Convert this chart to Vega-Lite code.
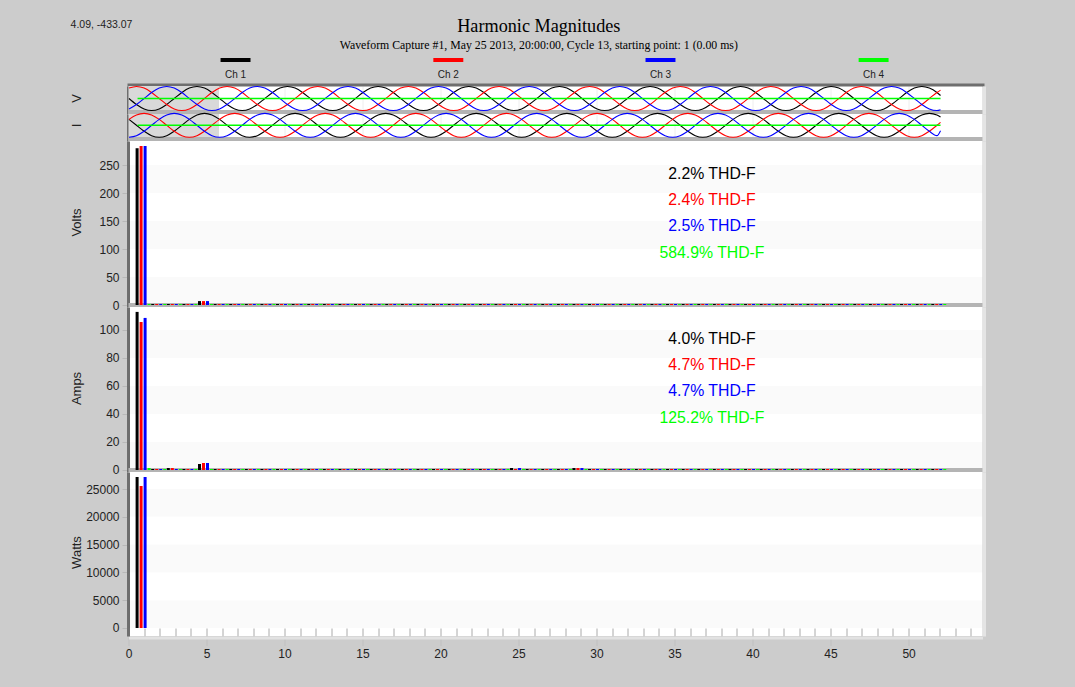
{"$schema":"https://vega.github.io/schema/vega-lite/v6.json","background":"#cccccc","padding":{"left":69.5,"top":0,"right":95,"bottom":40},"spacing":0,"bounds":"flush","config":{"view":{"stroke":null},"range":{"category":["#000000","#ff0000","#0000ff","#00ff00"]},"axis":{"labelFont":"Liberation Sans","titleFont":"Liberation Sans","labelFontSize":12,"titleFontSize":13,"labelColor":"#222222","titleColor":"#222222","titleFontWeight":"normal","grid":false,"labelFlush":false,"labelOverlap":false},"text":{"font":"Liberation Sans"}},"vconcat":[
{"width":854,"height":86,"layer":[
{"data":{"values":[{"label":"Harmonic Magnitudes"}]},"mark":{"type":"text","font":"Liberation Serif","fontSize":18.2,"color":"#000"},"encoding":{"text":{"field":"label"},"x":{"datum":26.3,"type":"quantitative","scale":{"domain":[0,54.74],"nice":false},"axis":null},"y":{"datum":27,"type":"quantitative","scale":{"domain":[86,0],"nice":false,"zero":false},"axis":null}}},
{"data":{"values":[{"label":"Waveform Capture #1, May 25 2013, 20:00:00, Cycle 13,  starting point: 1  (0.00 ms)"}]},"mark":{"type":"text","font":"Liberation Serif","fontSize":11.8,"color":"#000"},"encoding":{"text":{"field":"label"},"x":{"datum":26.3,"type":"quantitative","axis":null},"y":{"datum":45,"type":"quantitative","axis":null}}},
{"data":{"values":[{"label":"4.09, -433.07"}]},"mark":{"type":"text","fontSize":10.5,"color":"#222"},"encoding":{"text":{"field":"label"},"x":{"datum":-1.73,"type":"quantitative","axis":null},"y":{"datum":25,"type":"quantitative","axis":null}}},
{"data":{"values":[{"ch":"ch1","label":"Ch 1","c":6.86,"a":5.9,"b":7.82},{"ch":"ch2","label":"Ch 2","c":20.5,"a":19.54,"b":21.46},{"ch":"ch3","label":"Ch 3","c":34.1,"a":33.14,"b":35.06},{"ch":"ch4","label":"Ch 4","c":47.76,"a":46.8,"b":48.72}]},"layer":[
{"mark":{"type":"rule","strokeWidth":4},"encoding":{"x":{"field":"a","type":"quantitative","axis":null},"x2":{"field":"b"},"y":{"datum":60,"type":"quantitative","axis":null},"color":{"field":"ch","type":"nominal","legend":null}}},
{"mark":{"type":"text","fontSize":10,"color":"#222"},"encoding":{"x":{"field":"c","type":"quantitative","axis":null},"y":{"datum":75,"type":"quantitative","axis":null},"text":{"field":"label"}}}]}
]},
{"width":854,"height":28,"view":{"fill":"#ffffff","stroke":null},"resolve":{"axis":{"x":"independent","y":"independent"}},"layer":[
{"data":{"values":[{"a":0,"b":5.8}]},"mark":{"type":"rect","fill":"#d9d9d9"},"encoding":{"x":{"field":"a","type":"quantitative","scale":{"domain":[0,54.74],"nice":false},"axis":{"orient":"top","offset":1.5,"domainWidth":3,"domainColor":"#6e6e6e","domainCap":"square","values":[],"ticks":false,"labels":false,"title":null}},"x2":{"field":"b"}}},
{"data":{"values":[{"a":-1.29,"b":-0.96}]},"mark":{"type":"rect","fill":"#b4b4b4"},"encoding":{"y":{"field":"a","type":"quantitative","scale":{"domain":[-1.29,1.04],"nice":false,"zero":false},"axis":{"orient":"left","title":"V","titleX":-45,"titleY":12,"titleFontSize":13,"values":[],"ticks":false,"labels":false,"domainWidth":3,"domainColor":"#6e6e6e","offset":0.5}},"y2":{"field":"b"}}},
{"data":{"values":[{"t":0.03,"ch1":0,"ch2":0.87,"ch3":-0.87},{"t":0.51,"ch1":-0.5,"ch2":1,"ch3":-0.5},{"t":1.0,"ch1":-0.87,"ch2":0.87,"ch3":0},{"t":1.48,"ch1":-1,"ch2":0.5,"ch3":0.5},{"t":1.97,"ch1":-0.87,"ch2":0,"ch3":0.87},{"t":2.45,"ch1":-0.5,"ch2":-0.5,"ch3":1},{"t":2.93,"ch1":0,"ch2":-0.87,"ch3":0.87},{"t":3.42,"ch1":0.5,"ch2":-1,"ch3":0.5},{"t":3.9,"ch1":0.87,"ch2":-0.87,"ch3":0},{"t":4.39,"ch1":1,"ch2":-0.5,"ch3":-0.5},{"t":4.87,"ch1":0.87,"ch2":0,"ch3":-0.87},{"t":5.35,"ch1":0.5,"ch2":0.5,"ch3":-1},
{"t":5.84,"ch1":0,"ch2":0.87,"ch3":-0.87},{"t":6.32,"ch1":-0.5,"ch2":1,"ch3":-0.5},{"t":6.81,"ch1":-0.87,"ch2":0.87,"ch3":0},{"t":7.29,"ch1":-1,"ch2":0.5,"ch3":0.5},{"t":7.77,"ch1":-0.87,"ch2":0,"ch3":0.87},{"t":8.26,"ch1":-0.5,"ch2":-0.5,"ch3":1},{"t":8.74,"ch1":0,"ch2":-0.87,"ch3":0.87},{"t":9.23,"ch1":0.5,"ch2":-1,"ch3":0.5},{"t":9.71,"ch1":0.87,"ch2":-0.87,"ch3":0},{"t":10.19,"ch1":1,"ch2":-0.5,"ch3":-0.5},{"t":10.68,"ch1":0.87,"ch2":0,"ch3":-0.87},{"t":11.16,"ch1":0.5,"ch2":0.5,"ch3":-1},
{"t":11.65,"ch1":0,"ch2":0.87,"ch3":-0.87},{"t":12.13,"ch1":-0.5,"ch2":1,"ch3":-0.5},{"t":12.61,"ch1":-0.87,"ch2":0.87,"ch3":0},{"t":13.1,"ch1":-1,"ch2":0.5,"ch3":0.5},{"t":13.58,"ch1":-0.87,"ch2":0,"ch3":0.87},{"t":14.07,"ch1":-0.5,"ch2":-0.5,"ch3":1},{"t":14.55,"ch1":0,"ch2":-0.87,"ch3":0.87},{"t":15.03,"ch1":0.5,"ch2":-1,"ch3":0.5},{"t":15.52,"ch1":0.87,"ch2":-0.87,"ch3":0},{"t":16,"ch1":1,"ch2":-0.5,"ch3":-0.5},{"t":16.49,"ch1":0.87,"ch2":0,"ch3":-0.87},{"t":16.97,"ch1":0.5,"ch2":0.5,"ch3":-1},
{"t":17.45,"ch1":0,"ch2":0.87,"ch3":-0.87},{"t":17.94,"ch1":-0.5,"ch2":1,"ch3":-0.5},{"t":18.42,"ch1":-0.87,"ch2":0.87,"ch3":0},{"t":18.91,"ch1":-1,"ch2":0.5,"ch3":0.5},{"t":19.39,"ch1":-0.87,"ch2":0,"ch3":0.87},{"t":19.87,"ch1":-0.5,"ch2":-0.5,"ch3":1},{"t":20.36,"ch1":0,"ch2":-0.87,"ch3":0.87},{"t":20.84,"ch1":0.5,"ch2":-1,"ch3":0.5},{"t":21.33,"ch1":0.87,"ch2":-0.87,"ch3":0},{"t":21.81,"ch1":1,"ch2":-0.5,"ch3":-0.5},{"t":22.29,"ch1":0.87,"ch2":0,"ch3":-0.87},{"t":22.78,"ch1":0.5,"ch2":0.5,"ch3":-1},
{"t":23.26,"ch1":0,"ch2":0.87,"ch3":-0.87},{"t":23.75,"ch1":-0.5,"ch2":1,"ch3":-0.5},{"t":24.23,"ch1":-0.87,"ch2":0.87,"ch3":0},{"t":24.71,"ch1":-1,"ch2":0.5,"ch3":0.5},{"t":25.2,"ch1":-0.87,"ch2":0,"ch3":0.87},{"t":25.68,"ch1":-0.5,"ch2":-0.5,"ch3":1},{"t":26.17,"ch1":0,"ch2":-0.87,"ch3":0.87},{"t":26.65,"ch1":0.5,"ch2":-1,"ch3":0.5},{"t":27.13,"ch1":0.87,"ch2":-0.87,"ch3":0},{"t":27.62,"ch1":1,"ch2":-0.5,"ch3":-0.5},{"t":28.1,"ch1":0.87,"ch2":0,"ch3":-0.87},{"t":28.59,"ch1":0.5,"ch2":0.5,"ch3":-1},
{"t":29.07,"ch1":0,"ch2":0.87,"ch3":-0.87},{"t":29.55,"ch1":-0.5,"ch2":1,"ch3":-0.5},{"t":30.04,"ch1":-0.87,"ch2":0.87,"ch3":0},{"t":30.52,"ch1":-1,"ch2":0.5,"ch3":0.5},{"t":31.01,"ch1":-0.87,"ch2":0,"ch3":0.87},{"t":31.49,"ch1":-0.5,"ch2":-0.5,"ch3":1},{"t":31.97,"ch1":0,"ch2":-0.87,"ch3":0.87},{"t":32.46,"ch1":0.5,"ch2":-1,"ch3":0.5},{"t":32.94,"ch1":0.87,"ch2":-0.87,"ch3":0},{"t":33.43,"ch1":1,"ch2":-0.5,"ch3":-0.5},{"t":33.91,"ch1":0.87,"ch2":0,"ch3":-0.87},{"t":34.39,"ch1":0.5,"ch2":0.5,"ch3":-1},
{"t":34.88,"ch1":0,"ch2":0.87,"ch3":-0.87},{"t":35.36,"ch1":-0.5,"ch2":1,"ch3":-0.5},{"t":35.85,"ch1":-0.87,"ch2":0.87,"ch3":0},{"t":36.33,"ch1":-1,"ch2":0.5,"ch3":0.5},{"t":36.81,"ch1":-0.87,"ch2":0,"ch3":0.87},{"t":37.3,"ch1":-0.5,"ch2":-0.5,"ch3":1},{"t":37.78,"ch1":0,"ch2":-0.87,"ch3":0.87},{"t":38.27,"ch1":0.5,"ch2":-1,"ch3":0.5},{"t":38.75,"ch1":0.87,"ch2":-0.87,"ch3":0},{"t":39.23,"ch1":1,"ch2":-0.5,"ch3":-0.5},{"t":39.72,"ch1":0.87,"ch2":0,"ch3":-0.87},{"t":40.2,"ch1":0.5,"ch2":0.5,"ch3":-1},
{"t":40.69,"ch1":0,"ch2":0.87,"ch3":-0.87},{"t":41.17,"ch1":-0.5,"ch2":1,"ch3":-0.5},{"t":41.65,"ch1":-0.87,"ch2":0.87,"ch3":0},{"t":42.14,"ch1":-1,"ch2":0.5,"ch3":0.5},{"t":42.62,"ch1":-0.87,"ch2":0,"ch3":0.87},{"t":43.11,"ch1":-0.5,"ch2":-0.5,"ch3":1},{"t":43.59,"ch1":0,"ch2":-0.87,"ch3":0.87},{"t":44.07,"ch1":0.5,"ch2":-1,"ch3":0.5},{"t":44.56,"ch1":0.87,"ch2":-0.87,"ch3":0},{"t":45.04,"ch1":1,"ch2":-0.5,"ch3":-0.5},{"t":45.53,"ch1":0.87,"ch2":0,"ch3":-0.87},{"t":46.01,"ch1":0.5,"ch2":0.5,"ch3":-1},
{"t":46.49,"ch1":0,"ch2":0.87,"ch3":-0.87},{"t":46.98,"ch1":-0.5,"ch2":1,"ch3":-0.5},{"t":47.46,"ch1":-0.87,"ch2":0.87,"ch3":0},{"t":47.95,"ch1":-1,"ch2":0.5,"ch3":0.5},{"t":48.43,"ch1":-0.87,"ch2":0,"ch3":0.87},{"t":48.91,"ch1":-0.5,"ch2":-0.5,"ch3":1},{"t":49.4,"ch1":0,"ch2":-0.87,"ch3":0.87},{"t":49.88,"ch1":0.5,"ch2":-1,"ch3":0.5},{"t":50.37,"ch1":0.87,"ch2":-0.87,"ch3":0},{"t":50.85,"ch1":1,"ch2":-0.5,"ch3":-0.5},{"t":51.33,"ch1":0.87,"ch2":0,"ch3":-0.87},{"t":51.82,"ch1":0.5,"ch2":0.5,"ch3":-1},{"t":52.05,"ch1":0.25,"ch2":0.7,"ch3":-0.93}]},"transform":[{"fold":["ch1","ch2","ch3"],"as":["ch","v"]}],"mark":{"type":"line","strokeWidth":1.1,"interpolate":"monotone"},"encoding":{"x":{"field":"t","type":"quantitative","scale":{"domain":[0,54.74],"nice":false},"axis":{"orient":"bottom","grid":true,"gridColor":"#eeeeee","values":[0,5,10,15,20,25,30,35,40,45,50],"labels":false,"ticks":false,"domain":false,"title":null}},"y":{"field":"v","type":"quantitative","axis":{"orient":"right","offset":1.5,"domainWidth":3,"domainColor":"#e4e4e4","values":[],"ticks":false,"labels":false,"title":null}},"color":{"field":"ch","type":"nominal","legend":null},"order":{"field":"t"},"detail":{"field":"ch"}}},
{"data":{"values":[{"t":0.58,"ch":"ch4","v":0},{"t":52.05,"ch":"ch4","v":0}]},"mark":{"type":"line","strokeWidth":1.5,"color":"#00ff00"},"encoding":{"x":{"field":"t","type":"quantitative","axis":null},"y":{"field":"v","type":"quantitative","axis":null}}}
]},
{"width":854,"height":27,"view":{"fill":"#ffffff","stroke":null},"resolve":{"axis":{"x":"independent","y":"independent"}},"layer":[
{"data":{"values":[{"a":0,"b":5.8}]},"mark":{"type":"rect","fill":"#d9d9d9"},"encoding":{"x":{"field":"a","type":"quantitative","scale":{"domain":[0,54.74],"nice":false},"axis":null},"x2":{"field":"b"}}},
{"data":{"values":[{"a":-1.32,"b":-0.98}]},"mark":{"type":"rect","fill":"#b4b4b4"},"encoding":{"y":{"field":"a","type":"quantitative","scale":{"domain":[-1.32,0.95],"nice":false,"zero":false},"axis":{"orient":"left","title":"I","titleX":-45,"titleY":11,"titleFontSize":13,"values":[],"ticks":false,"labels":false,"domainWidth":3,"domainColor":"#6e6e6e","offset":0.5}},"y2":{"field":"b"}}},
{"data":{"values":[{"t":0.03,"ch1":0.5,"ch2":0.5,"ch3":-1},{"t":0.51,"ch1":0,"ch2":0.87,"ch3":-0.87},{"t":1.0,"ch1":-0.5,"ch2":1,"ch3":-0.5},{"t":1.48,"ch1":-0.87,"ch2":0.87,"ch3":0},{"t":1.97,"ch1":-1,"ch2":0.5,"ch3":0.5},{"t":2.45,"ch1":-0.87,"ch2":0,"ch3":0.87},{"t":2.93,"ch1":-0.5,"ch2":-0.5,"ch3":1},{"t":3.42,"ch1":0,"ch2":-0.87,"ch3":0.87},{"t":3.9,"ch1":0.5,"ch2":-1,"ch3":0.5},{"t":4.39,"ch1":0.87,"ch2":-0.87,"ch3":0},{"t":4.87,"ch1":1,"ch2":-0.5,"ch3":-0.5},{"t":5.35,"ch1":0.87,"ch2":0,"ch3":-0.87},
{"t":5.84,"ch1":0.5,"ch2":0.5,"ch3":-1},{"t":6.32,"ch1":0,"ch2":0.87,"ch3":-0.87},{"t":6.81,"ch1":-0.5,"ch2":1,"ch3":-0.5},{"t":7.29,"ch1":-0.87,"ch2":0.87,"ch3":0},{"t":7.77,"ch1":-1,"ch2":0.5,"ch3":0.5},{"t":8.26,"ch1":-0.87,"ch2":0,"ch3":0.87},{"t":8.74,"ch1":-0.5,"ch2":-0.5,"ch3":1},{"t":9.23,"ch1":0,"ch2":-0.87,"ch3":0.87},{"t":9.71,"ch1":0.5,"ch2":-1,"ch3":0.5},{"t":10.19,"ch1":0.87,"ch2":-0.87,"ch3":0},{"t":10.68,"ch1":1,"ch2":-0.5,"ch3":-0.5},{"t":11.16,"ch1":0.87,"ch2":0,"ch3":-0.87},
{"t":11.65,"ch1":0.5,"ch2":0.5,"ch3":-1},{"t":12.13,"ch1":0,"ch2":0.87,"ch3":-0.87},{"t":12.61,"ch1":-0.5,"ch2":1,"ch3":-0.5},{"t":13.1,"ch1":-0.87,"ch2":0.87,"ch3":0},{"t":13.58,"ch1":-1,"ch2":0.5,"ch3":0.5},{"t":14.07,"ch1":-0.87,"ch2":0,"ch3":0.87},{"t":14.55,"ch1":-0.5,"ch2":-0.5,"ch3":1},{"t":15.03,"ch1":0,"ch2":-0.87,"ch3":0.87},{"t":15.52,"ch1":0.5,"ch2":-1,"ch3":0.5},{"t":16,"ch1":0.87,"ch2":-0.87,"ch3":0},{"t":16.49,"ch1":1,"ch2":-0.5,"ch3":-0.5},{"t":16.97,"ch1":0.87,"ch2":0,"ch3":-0.87},
{"t":17.45,"ch1":0.5,"ch2":0.5,"ch3":-1},{"t":17.94,"ch1":0,"ch2":0.87,"ch3":-0.87},{"t":18.42,"ch1":-0.5,"ch2":1,"ch3":-0.5},{"t":18.91,"ch1":-0.87,"ch2":0.87,"ch3":0},{"t":19.39,"ch1":-1,"ch2":0.5,"ch3":0.5},{"t":19.87,"ch1":-0.87,"ch2":0,"ch3":0.87},{"t":20.36,"ch1":-0.5,"ch2":-0.5,"ch3":1},{"t":20.84,"ch1":0,"ch2":-0.87,"ch3":0.87},{"t":21.33,"ch1":0.5,"ch2":-1,"ch3":0.5},{"t":21.81,"ch1":0.87,"ch2":-0.87,"ch3":0},{"t":22.29,"ch1":1,"ch2":-0.5,"ch3":-0.5},{"t":22.78,"ch1":0.87,"ch2":0,"ch3":-0.87},
{"t":23.26,"ch1":0.5,"ch2":0.5,"ch3":-1},{"t":23.75,"ch1":0,"ch2":0.87,"ch3":-0.87},{"t":24.23,"ch1":-0.5,"ch2":1,"ch3":-0.5},{"t":24.71,"ch1":-0.87,"ch2":0.87,"ch3":0},{"t":25.2,"ch1":-1,"ch2":0.5,"ch3":0.5},{"t":25.68,"ch1":-0.87,"ch2":0,"ch3":0.87},{"t":26.17,"ch1":-0.5,"ch2":-0.5,"ch3":1},{"t":26.65,"ch1":0,"ch2":-0.87,"ch3":0.87},{"t":27.13,"ch1":0.5,"ch2":-1,"ch3":0.5},{"t":27.62,"ch1":0.87,"ch2":-0.87,"ch3":0},{"t":28.1,"ch1":1,"ch2":-0.5,"ch3":-0.5},{"t":28.59,"ch1":0.87,"ch2":0,"ch3":-0.87},
{"t":29.07,"ch1":0.5,"ch2":0.5,"ch3":-1},{"t":29.55,"ch1":0,"ch2":0.87,"ch3":-0.87},{"t":30.04,"ch1":-0.5,"ch2":1,"ch3":-0.5},{"t":30.52,"ch1":-0.87,"ch2":0.87,"ch3":0},{"t":31.01,"ch1":-1,"ch2":0.5,"ch3":0.5},{"t":31.49,"ch1":-0.87,"ch2":0,"ch3":0.87},{"t":31.97,"ch1":-0.5,"ch2":-0.5,"ch3":1},{"t":32.46,"ch1":0,"ch2":-0.87,"ch3":0.87},{"t":32.94,"ch1":0.5,"ch2":-1,"ch3":0.5},{"t":33.43,"ch1":0.87,"ch2":-0.87,"ch3":0},{"t":33.91,"ch1":1,"ch2":-0.5,"ch3":-0.5},{"t":34.39,"ch1":0.87,"ch2":0,"ch3":-0.87},
{"t":34.88,"ch1":0.5,"ch2":0.5,"ch3":-1},{"t":35.36,"ch1":0,"ch2":0.87,"ch3":-0.87},{"t":35.85,"ch1":-0.5,"ch2":1,"ch3":-0.5},{"t":36.33,"ch1":-0.87,"ch2":0.87,"ch3":0},{"t":36.81,"ch1":-1,"ch2":0.5,"ch3":0.5},{"t":37.3,"ch1":-0.87,"ch2":0,"ch3":0.87},{"t":37.78,"ch1":-0.5,"ch2":-0.5,"ch3":1},{"t":38.27,"ch1":0,"ch2":-0.87,"ch3":0.87},{"t":38.75,"ch1":0.5,"ch2":-1,"ch3":0.5},{"t":39.23,"ch1":0.87,"ch2":-0.87,"ch3":0},{"t":39.72,"ch1":1,"ch2":-0.5,"ch3":-0.5},{"t":40.2,"ch1":0.87,"ch2":0,"ch3":-0.87},
{"t":40.69,"ch1":0.5,"ch2":0.5,"ch3":-1},{"t":41.17,"ch1":0,"ch2":0.87,"ch3":-0.87},{"t":41.65,"ch1":-0.5,"ch2":1,"ch3":-0.5},{"t":42.14,"ch1":-0.87,"ch2":0.87,"ch3":0},{"t":42.62,"ch1":-1,"ch2":0.5,"ch3":0.5},{"t":43.11,"ch1":-0.87,"ch2":0,"ch3":0.87},{"t":43.59,"ch1":-0.5,"ch2":-0.5,"ch3":1},{"t":44.07,"ch1":0,"ch2":-0.87,"ch3":0.87},{"t":44.56,"ch1":0.5,"ch2":-1,"ch3":0.5},{"t":45.04,"ch1":0.87,"ch2":-0.87,"ch3":0},{"t":45.53,"ch1":1,"ch2":-0.5,"ch3":-0.5},{"t":46.01,"ch1":0.87,"ch2":0,"ch3":-0.87},
{"t":46.49,"ch1":0.5,"ch2":0.5,"ch3":-1},{"t":46.98,"ch1":0,"ch2":0.87,"ch3":-0.87},{"t":47.46,"ch1":-0.5,"ch2":1,"ch3":-0.5},{"t":47.95,"ch1":-0.87,"ch2":0.87,"ch3":0},{"t":48.43,"ch1":-1,"ch2":0.5,"ch3":0.5},{"t":48.91,"ch1":-0.87,"ch2":0,"ch3":0.87},{"t":49.4,"ch1":-0.5,"ch2":-0.5,"ch3":1},{"t":49.88,"ch1":0,"ch2":-0.87,"ch3":0.87},{"t":50.37,"ch1":0.5,"ch2":-1,"ch3":0.5},{"t":50.85,"ch1":0.87,"ch2":-0.87,"ch3":0},{"t":51.33,"ch1":1,"ch2":-0.5,"ch3":-0.5},{"t":51.82,"ch1":0.87,"ch2":0,"ch3":-0.87},{"t":52.05,"ch1":0.7,"ch2":0.25,"ch3":-0.45}]},"transform":[{"fold":["ch1","ch2","ch3"],"as":["ch","v"]}],"mark":{"type":"line","strokeWidth":1.1,"interpolate":"monotone"},"encoding":{"x":{"field":"t","type":"quantitative","axis":{"orient":"bottom","grid":true,"gridColor":"#eeeeee","values":[0,5,10,15,20,25,30,35,40,45,50],"labels":false,"ticks":false,"domain":false,"title":null}},"y":{"field":"v","type":"quantitative","axis":{"orient":"right","offset":1.5,"domainWidth":3,"domainColor":"#e4e4e4","values":[],"ticks":false,"labels":false,"title":null}},"color":{"field":"ch","type":"nominal","legend":null},"order":{"field":"t"},"detail":{"field":"ch"}}},
{"data":{"values":[{"t":0.58,"ch":"ch4","v":0},{"t":52.05,"ch":"ch4","v":0}]},"mark":{"type":"line","strokeWidth":1.5,"color":"#00ff00"},"encoding":{"x":{"field":"t","type":"quantitative","axis":null},"y":{"field":"v","type":"quantitative","axis":null}}}
]},
{"width":854,"height":166,"view":{"fill":"#ffffff","stroke":null},"resolve":{"axis":{"x":"independent","y":"independent"}},"layer":[
{"data":{"values":[{"a":250,"b":200},{"a":150,"b":100},{"a":50,"b":0}]},"mark":{"type":"rect","fill":"#000","opacity":0.02},"encoding":{"y":{"field":"a","type":"quantitative","scale":{"domain":[-3.57,292.9],"nice":false,"zero":false},"axis":{"orient":"left","title":"Volts","titleX":-45,"titleY":81,"values":[0,50,100,150,200,250],"tickColor":"#b8b8b8","tickSize":6,"labelPadding":3,"domainWidth":3,"domainColor":"#6e6e6e","offset":0.5}},"y2":{"field":"b"}}},
{"data":{"values":[{"a":-3.57,"b":3.57}]},"mark":{"type":"rect","fill":"#b4b4b4"},"encoding":{"y":{"field":"a","type":"quantitative","axis":{"orient":"right","offset":1.5,"domainWidth":3,"domainColor":"#e4e4e4","values":[],"ticks":false,"labels":false,"title":null}},"y2":{"field":"b"}}},
{"data":{"values":[{"h":1,"ch1":280,"ch2":284,"ch3":284,"ch4":1.8},{"h":2,"ch1":1.8,"ch2":1.8,"ch3":1.8,"ch4":1.8},{"h":3,"ch1":1.8,"ch2":1.8,"ch3":1.8,"ch4":1.8},{"h":4,"ch1":1.8,"ch2":1.8,"ch3":1.8,"ch4":1.8},{"h":5,"ch1":7,"ch2":7,"ch3":7,"ch4":1.8},{"h":6,"ch1":1.8,"ch2":1.8,"ch3":1.8,"ch4":1.8},{"h":7,"ch1":1.8,"ch2":1.8,"ch3":1.8,"ch4":1.8},{"h":8,"ch1":1.8,"ch2":1.8,"ch3":1.8,"ch4":1.8},{"h":9,"ch1":1.8,"ch2":1.8,"ch3":1.8,"ch4":1.8},{"h":10,"ch1":1.8,"ch2":1.8,"ch3":1.8,"ch4":1.8},{"h":11,"ch1":1.8,"ch2":1.8,"ch3":1.8,"ch4":1.8},{"h":12,"ch1":1.8,"ch2":1.8,"ch3":1.8,"ch4":1.8},{"h":13,"ch1":1.8,"ch2":1.8,"ch3":1.8,"ch4":1.8},{"h":14,"ch1":1.8,"ch2":1.8,"ch3":1.8,"ch4":1.8},{"h":15,"ch1":1.8,"ch2":1.8,"ch3":1.8,"ch4":1.8},{"h":16,"ch1":1.8,"ch2":1.8,"ch3":1.8,"ch4":1.8},{"h":17,"ch1":1.8,"ch2":1.8,"ch3":1.8,"ch4":1.8},{"h":18,"ch1":1.8,"ch2":1.8,"ch3":1.8,"ch4":1.8},{"h":19,"ch1":1.8,"ch2":1.8,"ch3":1.8,"ch4":1.8},{"h":20,"ch1":1.8,"ch2":1.8,"ch3":1.8,"ch4":1.8},{"h":21,"ch1":1.8,"ch2":1.8,"ch3":1.8,"ch4":1.8},{"h":22,"ch1":1.8,"ch2":1.8,"ch3":1.8,"ch4":1.8},{"h":23,"ch1":1.8,"ch2":1.8,"ch3":1.8,"ch4":1.8},{"h":24,"ch1":1.8,"ch2":1.8,"ch3":1.8,"ch4":1.8},{"h":25,"ch1":1.8,"ch2":1.8,"ch3":1.8,"ch4":1.8},{"h":26,"ch1":1.8,"ch2":1.8,"ch3":1.8,"ch4":1.8},{"h":27,"ch1":1.8,"ch2":1.8,"ch3":1.8,"ch4":1.8},{"h":28,"ch1":1.8,"ch2":1.8,"ch3":1.8,"ch4":1.8},{"h":29,"ch1":1.8,"ch2":1.8,"ch3":1.8,"ch4":1.8},{"h":30,"ch1":1.8,"ch2":1.8,"ch3":1.8,"ch4":1.8},{"h":31,"ch1":1.8,"ch2":1.8,"ch3":1.8,"ch4":1.8},{"h":32,"ch1":1.8,"ch2":1.8,"ch3":1.8,"ch4":1.8},{"h":33,"ch1":1.8,"ch2":1.8,"ch3":1.8,"ch4":1.8},{"h":34,"ch1":1.8,"ch2":1.8,"ch3":1.8,"ch4":1.8},{"h":35,"ch1":1.8,"ch2":1.8,"ch3":1.8,"ch4":1.8},{"h":36,"ch1":1.8,"ch2":1.8,"ch3":1.8,"ch4":1.8},{"h":37,"ch1":1.8,"ch2":1.8,"ch3":1.8,"ch4":1.8},{"h":38,"ch1":1.8,"ch2":1.8,"ch3":1.8,"ch4":1.8},{"h":39,"ch1":1.8,"ch2":1.8,"ch3":1.8,"ch4":1.8},{"h":40,"ch1":1.8,"ch2":1.8,"ch3":1.8,"ch4":1.8},{"h":41,"ch1":1.8,"ch2":1.8,"ch3":1.8,"ch4":1.8},{"h":42,"ch1":1.8,"ch2":1.8,"ch3":1.8,"ch4":1.8},{"h":43,"ch1":1.8,"ch2":1.8,"ch3":1.8,"ch4":1.8},{"h":44,"ch1":1.8,"ch2":1.8,"ch3":1.8,"ch4":1.8},{"h":45,"ch1":1.8,"ch2":1.8,"ch3":1.8,"ch4":1.8},{"h":46,"ch1":1.8,"ch2":1.8,"ch3":1.8,"ch4":1.8},{"h":47,"ch1":1.8,"ch2":1.8,"ch3":1.8,"ch4":1.8},{"h":48,"ch1":1.8,"ch2":1.8,"ch3":1.8,"ch4":1.8},{"h":49,"ch1":1.8,"ch2":1.8,"ch3":1.8,"ch4":1.8},{"h":50,"ch1":1.8,"ch2":1.8,"ch3":1.8,"ch4":1.8},{"h":51,"ch1":1.8,"ch2":1.8,"ch3":1.8,"ch4":1.8},{"h":52,"ch1":1.8,"ch2":1.8,"ch3":1.8,"ch4":1.8}]},"layer":[
{"mark":{"type":"rule","strokeWidth":3,"xOffset":-7,"color":"#000000"},"encoding":{"x":{"field":"h","type":"quantitative","scale":{"domain":[0,54.74],"nice":false},"axis":{"orient":"bottom","grid":true,"gridColor":"#eeeeee","values":[0,5,10,15,20,25,30,35,40,45,50],"labels":false,"ticks":false,"domain":false,"title":null}},"y":{"field":"ch1","type":"quantitative","axis":{"orient":"left","values":[0,10,20,30,40,50,60,70,80,90,100,110,120,130,140,150,160,170,180,190,200,210,220,230,240,250,260,270,280,290],"offset":-6,"tickColor":"#c8c8c8","tickSize":6,"labels":false,"domain":false,"title":null}},"y2":{"datum":0}}},
{"mark":{"type":"rule","strokeWidth":3,"xOffset":-3,"color":"#ff0000"},"encoding":{"x":{"field":"h","type":"quantitative","axis":null},"y":{"field":"ch2","type":"quantitative","axis":null},"y2":{"datum":0}}},
{"mark":{"type":"rule","strokeWidth":3,"xOffset":1,"color":"#0000ff"},"encoding":{"x":{"field":"h","type":"quantitative","axis":null},"y":{"field":"ch3","type":"quantitative","axis":null},"y2":{"datum":0}}},
{"mark":{"type":"rule","strokeWidth":3,"xOffset":5,"color":"#00ff00"},"encoding":{"x":{"field":"h","type":"quantitative","axis":null},"y":{"field":"ch4","type":"quantitative","axis":null},"y2":{"datum":0}}}]},
{"data":{"values":[{"t":"2.2% THD-F","ch":"ch1","v":233.4},{"t":"2.4% THD-F","ch":"ch2","v":187},{"t":"2.5% THD-F","ch":"ch3","v":140.4},{"t":"584.9% THD-F","ch":"ch4","v":93.2}]},"mark":{"type":"text","fontSize":15.8},"encoding":{"x":{"datum":37.4,"type":"quantitative","axis":null},"y":{"field":"v","type":"quantitative","axis":null},"text":{"field":"t"},"color":{"field":"ch","type":"nominal","legend":null}}}
]},
{"width":854,"height":165,"view":{"fill":"#ffffff","stroke":null},"resolve":{"axis":{"x":"independent","y":"independent"}},"layer":[
{"data":{"values":[{"a":100,"b":80},{"a":60,"b":40},{"a":20,"b":0}]},"mark":{"type":"rect","fill":"#000","opacity":0.02},"encoding":{"y":{"field":"a","type":"quantitative","scale":{"domain":[-1.43,116.4],"nice":false,"zero":false},"axis":{"orient":"left","title":"Amps","titleX":-45,"titleY":81,"values":[0,20,40,60,80,100],"tickColor":"#b8b8b8","tickSize":6,"labelPadding":3,"domainWidth":3,"domainColor":"#6e6e6e","offset":0.5}},"y2":{"field":"b"}}},
{"data":{"values":[{"a":-1.43,"b":1.43}]},"mark":{"type":"rect","fill":"#b4b4b4"},"encoding":{"y":{"field":"a","type":"quantitative","axis":{"orient":"right","offset":1.5,"domainWidth":3,"domainColor":"#e4e4e4","values":[],"ticks":false,"labels":false,"title":null}},"y2":{"field":"b"}}},
{"data":{"values":[{"h":1,"ch1":112.9,"ch2":105.7,"ch3":108.6,"ch4":1.4},{"h":2,"ch1":0.7,"ch2":0.7,"ch3":0.7,"ch4":0.7},{"h":3,"ch1":1.4,"ch2":1.4,"ch3":0.7,"ch4":0.7},{"h":4,"ch1":0.7,"ch2":0.7,"ch3":0.7,"ch4":0.7},{"h":5,"ch1":4.3,"ch2":5,"ch3":5,"ch4":0.7},{"h":6,"ch1":0.7,"ch2":0.7,"ch3":0.7,"ch4":0.7},{"h":7,"ch1":0.7,"ch2":0.7,"ch3":0.7,"ch4":0.7},{"h":8,"ch1":0.7,"ch2":0.7,"ch3":0.7,"ch4":0.7},{"h":9,"ch1":0.7,"ch2":0.7,"ch3":0.7,"ch4":0.7},{"h":10,"ch1":0.7,"ch2":0.7,"ch3":0.7,"ch4":0.7},{"h":11,"ch1":0.7,"ch2":0.7,"ch3":0.7,"ch4":0.7},{"h":12,"ch1":0.7,"ch2":0.7,"ch3":0.7,"ch4":0.7},{"h":13,"ch1":0.7,"ch2":0.7,"ch3":0.7,"ch4":0.7},{"h":14,"ch1":0.7,"ch2":0.7,"ch3":0.7,"ch4":0.7},{"h":15,"ch1":0.7,"ch2":0.7,"ch3":0.7,"ch4":0.7},{"h":16,"ch1":0.7,"ch2":0.7,"ch3":0.7,"ch4":0.7},{"h":17,"ch1":0.7,"ch2":0.7,"ch3":0.7,"ch4":0.7},{"h":18,"ch1":0.7,"ch2":0.7,"ch3":0.7,"ch4":0.7},{"h":19,"ch1":0.7,"ch2":0.7,"ch3":0.7,"ch4":0.7},{"h":20,"ch1":0.7,"ch2":0.7,"ch3":0.7,"ch4":0.7},{"h":21,"ch1":0.7,"ch2":0.7,"ch3":0.7,"ch4":0.7},{"h":22,"ch1":0.7,"ch2":0.7,"ch3":0.7,"ch4":0.7},{"h":23,"ch1":0.7,"ch2":0.7,"ch3":0.7,"ch4":0.7},{"h":24,"ch1":0.7,"ch2":0.7,"ch3":0.7,"ch4":0.7},{"h":25,"ch1":1.4,"ch2":0.7,"ch3":1.4,"ch4":0.7},{"h":26,"ch1":0.7,"ch2":0.7,"ch3":0.7,"ch4":0.7},{"h":27,"ch1":0.7,"ch2":0.7,"ch3":0.7,"ch4":0.7},{"h":28,"ch1":0.7,"ch2":0.7,"ch3":0.7,"ch4":0.7},{"h":29,"ch1":1.4,"ch2":1.4,"ch3":1.4,"ch4":0.7},{"h":30,"ch1":0.7,"ch2":0.7,"ch3":0.7,"ch4":0.7},{"h":31,"ch1":0.7,"ch2":0.7,"ch3":0.7,"ch4":0.7},{"h":32,"ch1":0.7,"ch2":0.7,"ch3":0.7,"ch4":0.7},{"h":33,"ch1":0.7,"ch2":0.7,"ch3":0.7,"ch4":0.7},{"h":34,"ch1":0.7,"ch2":0.7,"ch3":0.7,"ch4":0.7},{"h":35,"ch1":0.7,"ch2":0.7,"ch3":0.7,"ch4":0.7},{"h":36,"ch1":0.7,"ch2":0.7,"ch3":0.7,"ch4":0.7},{"h":37,"ch1":0.7,"ch2":0.7,"ch3":0.7,"ch4":0.7},{"h":38,"ch1":0.7,"ch2":0.7,"ch3":0.7,"ch4":0.7},{"h":39,"ch1":0.7,"ch2":0.7,"ch3":0.7,"ch4":0.7},{"h":40,"ch1":0.7,"ch2":0.7,"ch3":0.7,"ch4":0.7},{"h":41,"ch1":0.7,"ch2":0.7,"ch3":0.7,"ch4":0.7},{"h":42,"ch1":0.7,"ch2":0.7,"ch3":0.7,"ch4":0.7},{"h":43,"ch1":0.7,"ch2":0.7,"ch3":0.7,"ch4":0.7},{"h":44,"ch1":0.7,"ch2":0.7,"ch3":0.7,"ch4":0.7},{"h":45,"ch1":0.7,"ch2":0.7,"ch3":0.7,"ch4":0.7},{"h":46,"ch1":0.7,"ch2":0.7,"ch3":0.7,"ch4":0.7},{"h":47,"ch1":0.7,"ch2":0.7,"ch3":0.7,"ch4":0.7},{"h":48,"ch1":0.7,"ch2":0.7,"ch3":0.7,"ch4":0.7},{"h":49,"ch1":0.7,"ch2":0.7,"ch3":0.7,"ch4":0.7},{"h":50,"ch1":0.7,"ch2":0.7,"ch3":0.7,"ch4":0.7},{"h":51,"ch1":0.7,"ch2":0.7,"ch3":0.7,"ch4":0.7},{"h":52,"ch1":0.7,"ch2":0.7,"ch3":0.7,"ch4":0.7}]},"layer":[
{"mark":{"type":"rule","strokeWidth":3,"xOffset":-7,"color":"#000000"},"encoding":{"x":{"field":"h","type":"quantitative","scale":{"domain":[0,54.74],"nice":false},"axis":{"orient":"bottom","grid":true,"gridColor":"#eeeeee","values":[0,5,10,15,20,25,30,35,40,45,50],"labels":false,"ticks":false,"domain":false,"title":null}},"y":{"field":"ch1","type":"quantitative","axis":{"orient":"left","values":[0,4,8,12,16,20,24,28,32,36,40,44,48,52,56,60,64,68,72,76,80,84,88,92,96,100,104,108,112,116],"offset":-6,"tickColor":"#c8c8c8","tickSize":6,"labels":false,"domain":false,"title":null}},"y2":{"datum":0}}},
{"mark":{"type":"rule","strokeWidth":3,"xOffset":-3,"color":"#ff0000"},"encoding":{"x":{"field":"h","type":"quantitative","axis":null},"y":{"field":"ch2","type":"quantitative","axis":null},"y2":{"datum":0}}},
{"mark":{"type":"rule","strokeWidth":3,"xOffset":1,"color":"#0000ff"},"encoding":{"x":{"field":"h","type":"quantitative","axis":null},"y":{"field":"ch3","type":"quantitative","axis":null},"y2":{"datum":0}}},
{"mark":{"type":"rule","strokeWidth":3,"xOffset":5,"color":"#00ff00"},"encoding":{"x":{"field":"h","type":"quantitative","axis":null},"y":{"field":"ch4","type":"quantitative","axis":null},"y2":{"datum":0}}}]},
{"data":{"values":[{"t":"4.0% THD-F","ch":"ch1","v":93.6},{"t":"4.7% THD-F","ch":"ch2","v":75.2},{"t":"4.7% THD-F","ch":"ch3","v":56.7},{"t":"125.2% THD-F","ch":"ch4","v":36.9}]},"mark":{"type":"text","fontSize":15.8},"encoding":{"x":{"datum":37.4,"type":"quantitative","axis":null},"y":{"field":"v","type":"quantitative","axis":null},"text":{"field":"t"},"color":{"field":"ch","type":"nominal","legend":null}}}
]},
{"width":854,"height":164,"view":{"fill":"#ffffff","stroke":null},"resolve":{"axis":{"x":"independent","y":"independent"}},"layer":[
{"data":{"values":[{"a":25000,"b":20000},{"a":15000,"b":10000},{"a":5000,"b":0}]},"mark":{"type":"rect","fill":"#000","opacity":0.02},"encoding":{"y":{"field":"a","type":"quantitative","scale":{"domain":[-1439,28058],"nice":false,"zero":false},"axis":{"orient":"left","title":"Watts","titleX":-45,"titleY":80,"values":[0,5000,10000,15000,20000,25000],"format":"d","tickColor":"#b8b8b8","tickSize":6,"labelPadding":3,"domainWidth":3,"domainColor":"#6e6e6e","offset":0.5}},"y2":{"field":"b"}}},
{"data":{"values":[{"h":1,"ch1":27160,"ch2":25540,"ch3":27160}]},"layer":[
{"mark":{"type":"rule","strokeWidth":3,"xOffset":-7,"color":"#000000"},"encoding":{"x":{"field":"h","type":"quantitative","scale":{"domain":[0,54.74],"nice":false},"axis":{"orient":"bottom","grid":true,"gridColor":"#eeeeee","values":[0,5,10,15,20,25,30,35,40,45,50],"labels":false,"ticks":false,"domain":false,"title":null}},"y":{"field":"ch1","type":"quantitative","axis":{"orient":"left","values":[0,1000,2000,3000,4000,5000,6000,7000,8000,9000,10000,11000,12000,13000,14000,15000,16000,17000,18000,19000,20000,21000,22000,23000,24000,25000,26000,27000,28000],"offset":-6,"tickColor":"#c8c8c8","tickSize":6,"labels":false,"domain":false,"title":null}},"y2":{"datum":0}}},
{"mark":{"type":"rule","strokeWidth":3,"xOffset":-3,"color":"#ff0000"},"encoding":{"x":{"field":"h","type":"quantitative","axis":null},"y":{"field":"ch2","type":"quantitative","axis":null},"y2":{"datum":0}}},
{"mark":{"type":"rule","strokeWidth":3,"xOffset":1,"color":"#0000ff"},"encoding":{"x":{"field":"h","type":"quantitative","axis":null},"y":{"field":"ch3","type":"quantitative","axis":null},"y2":{"datum":0}}}]},
{"data":{"values":[{"a":0,"b":0}]},"mark":{"type":"rect","opacity":0},"encoding":{"x":{"field":"a","type":"quantitative","axis":{"orient":"bottom","offset":-8,"values":[0,1,2,3,4,5,6,7,8,9,10,11,12,13,14,15,16,17,18,19,20,21,22,23,24,25,26,27,28,29,30,31,32,33,34,35,36,37,38,39,40,41,42,43,44,45,46,47,48,49,50,51,52,53,54],"tickColor":"#aaaaaa","tickSize":8,"labels":false,"domain":false,"title":null}},"y":{"field":"b","type":"quantitative","axis":{"orient":"right","offset":1.5,"domainWidth":3,"domainColor":"#e4e4e4","values":[],"ticks":false,"labels":false,"title":null}}}},
{"data":{"values":[{"a":0,"b":0}]},"mark":{"type":"rect","opacity":0},"encoding":{"x":{"field":"a","type":"quantitative","axis":{"orient":"bottom","offset":1.5,"values":[0,5,10,15,20,25,30,35,40,45,50],"tickColor":"#c0c0c0","tickSize":8,"labelPadding":3,"domainWidth":3,"domainColor":"#e2e2e2","title":null,"labelAngle":0,"format":"d"}},"y":{"field":"b","type":"quantitative","axis":null}}}
]}
]}
